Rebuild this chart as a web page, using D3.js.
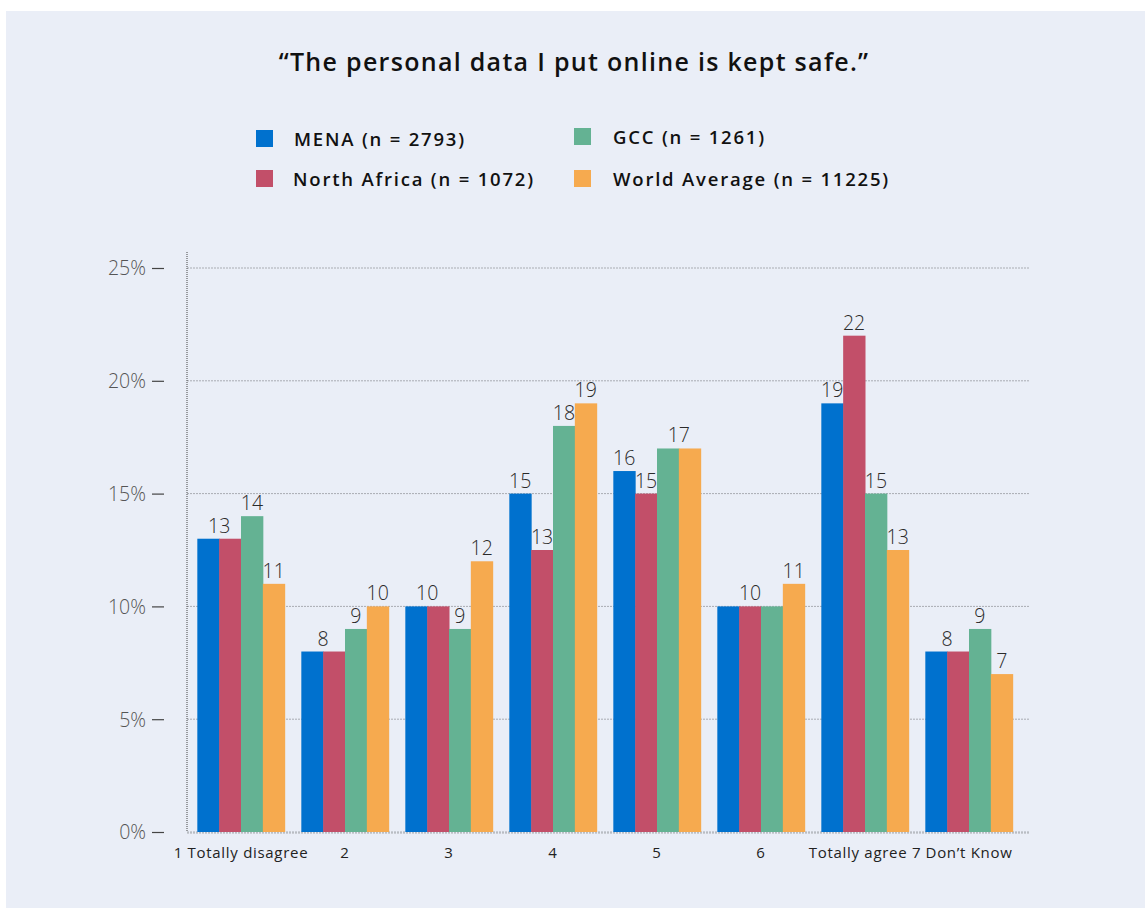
<!DOCTYPE html>
<html><head><meta charset="utf-8">
<script src="https://cdn.jsdelivr.net/npm/d3@7"></script>
<style>
body{margin:0;background:#fff;}
svg{display:block;}
</style></head>
<body>
<svg id="chart" width="1147" height="908"></svg>
<script>
const categories = ["1 Totally disagree","2","3","4","5","6","Totally agree 7","Don\u2019t Know"];
const seriesNames = ["MENA (n = 2793)","North Africa (n = 1072)","GCC (n = 1261)","World Average (n = 11225)"];
const seriesColors = ["#0071CE","#C24F69","#64B293","#F6AA4F"];
const mena = [13,8,10,15,16,10,19,8];
const northAfrica = [13,8,10,12.5,15,10,22,8];
const gcc = [14,9,9,18,17,10,15,9];
const world = [11,10,12,19,17,11,12.5,7];
const yTicks = [0,5,10,15,20,25];
const title = "\u201CThe personal data I put online is kept safe.\u201D";

const series = [mena, northAfrica, gcc, world];
const svg = d3.select("#chart");
const font = "'Open Sans', sans-serif";

svg.append("rect").attr("x",6).attr("y",11).attr("width",1139).attr("height",897).attr("fill","#EAEEF7");

svg.append("text").attr("x",574).attr("y",71).attr("text-anchor","middle")
  .attr("font-family",font).attr("font-size",25).attr("font-weight",600).attr("fill","#111")
  .attr("letter-spacing",1.3).text(title);

// legend
const legendPos = [[256,130,294],[256,170,293],[574,128,613],[574,170,613]];
seriesNames.forEach((n,i)=>{
  const [sx,sy,tx]=legendPos[i];
  svg.append("text").attr("x",tx).attr("y",sy+16).attr("font-family",font).attr("font-size",18.5)
    .attr("font-weight",600).attr("fill","#111").attr("letter-spacing",1.8).text(n);
  svg.append("rect").attr("x",sx).attr("y",sy).attr("width",17).attr("height",17).attr("fill",seriesColors[i]);
});

const y = d3.scaleLinear().domain([0,25]).range([832,268]);
const x0 = d3.scaleBand().domain(categories).range([189,1021]).paddingInner(0.16).paddingOuter(0.08);
const x1 = d3.scaleBand().domain(d3.range(series.length)).range([0,x0.bandwidth()]);

// gridlines
svg.append("g").selectAll("line").data(yTicks).join("line")
  .attr("x1",187).attr("x2",1030).attr("y1",d=>y(d)).attr("y2",d=>y(d))
  .attr("stroke","#A9ACB2").attr("stroke-width",1).attr("stroke-dasharray","2,1");

// y axis
const yAxis = d3.axisLeft(y).tickValues(yTicks).tickFormat(d=>d+"%").tickSize(0).tickPadding(0);
const ya = svg.append("g").attr("transform","translate(146,0)").call(yAxis);
ya.select(".domain").remove();
ya.selectAll("text").attr("font-family",font).attr("font-size",19.5).attr("font-weight",300).attr("fill","#555").attr("dy","0.35em");
ya.selectAll(".tick").append("line").attr("x1",6).attr("x2",18).attr("y1",0).attr("y2",0).attr("stroke","#444").attr("stroke-width",1.2);
svg.append("line").attr("x1",187).attr("x2",187).attr("y1",252).attr("y2",831)
  .attr("stroke","#444").attr("stroke-width",1).attr("stroke-dasharray","1,1");

// bars
const groups = svg.append("g").selectAll("g").data(categories).join("g")
  .attr("transform",d=>`translate(${x0(d)},0)`);
groups.each(function(c,ci){
  const g = d3.select(this);
  const vals = series.map((s,si)=>({si, v:s[ci]}));
  g.selectAll("rect").data(vals).join("rect")
    .attr("x",d=>x1(d.si)).attr("width",x1.bandwidth()+0.5)
    .attr("y",d=>y(d.v)).attr("height",d=>y(0)-y(d.v))
    .attr("fill",d=>seriesColors[d.si]);
  // one label per run of equal rounded values
  const runs = [];
  vals.forEach(d=>{
    const r = Math.round(d.v);
    const last = runs[runs.length-1];
    if (last && last.label===r) { last.end=d.si; last.v=Math.max(last.v,d.v); }
    else runs.push({label:r,start:d.si,end:d.si,v:d.v});
  });
  g.selectAll("text").data(runs).join("text")
    .attr("x",d=>(x1(d.start)+x1(d.end)+x1.bandwidth())/2).attr("y",d=>y(d.v)-6)
    .attr("text-anchor","middle").attr("font-family",font).attr("font-size",19.5).attr("font-weight",300)
    .attr("fill","#2a2a2a").text(d=>d.label);
});

// x axis
const xAxis = d3.axisBottom(x0).tickSize(0).tickPadding(0);
const xa = svg.append("g").attr("transform","translate(0,832)").call(xAxis);
xa.select(".domain").remove();
xa.selectAll("text").attr("font-family",font).attr("font-size",15).attr("fill","#222")
  .attr("letter-spacing",0.7).attr("dy","1.75em");
svg.append("line").attr("x1",187).attr("x2",1030).attr("y1",833).attr("y2",833)
  .attr("stroke","#A9ACB2").attr("stroke-dasharray","2,1");
</script>
</body></html>
